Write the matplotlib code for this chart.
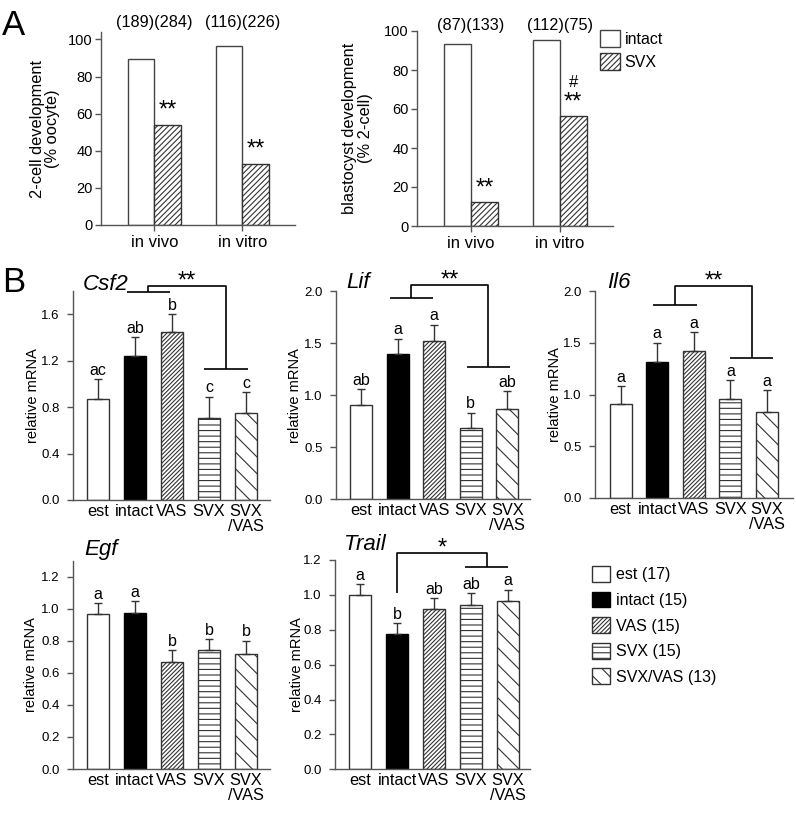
import matplotlib
matplotlib.use('Agg')
import matplotlib.pyplot as plt
import numpy as np

plt.rcParams['font.family'] = ['Liberation Sans', 'DejaVu Sans']
plt.rcParams['hatch.linewidth'] = 0.8

# ---------------- Panel A data ----------------
groups_A = ['in vivo', 'in vitro']
series_A = ['intact', 'SVX']
two_cell_intact = [89.6, 96.4]
two_cell_svx = [53.7, 33.1]
two_cell_n = ['(189)(284)', '(116)(226)']
two_cell_marks = ['**', '**']
blast_intact = [93.5, 95.2]
blast_svx = [12.1, 56.2]
blast_n = ['(87)(133)', '(112)(75)']
blast_marks = ['**', '**']
blast_hash = ['', '#']

# ---------------- Panel B data ----------------
conditions = ['est', 'intact', 'VAS', 'SVX', 'SVX\n/VAS']
legend_labels = ['est (17)', 'intact (15)', 'VAS (15)', 'SVX (15)', 'SVX/VAS (13)']

csf2_mean = [0.87, 1.24, 1.445, 0.71, 0.75]
csf2_err = [0.17, 0.16, 0.155, 0.18, 0.18]
csf2_letters = ['ac', 'ab', 'b', 'c', 'c']

lif_mean = [0.905, 1.40, 1.525, 0.68, 0.867]
lif_err = [0.155, 0.145, 0.155, 0.15, 0.173]
lif_letters = ['ab', 'a', 'a', 'b', 'ab']

il6_mean = [0.905, 1.31, 1.42, 0.955, 0.83]
il6_err = [0.175, 0.19, 0.18, 0.185, 0.21]
il6_letters = ['a', 'a', 'a', 'a', 'a']

egf_mean = [0.965, 0.975, 0.666, 0.74, 0.718]
egf_err = [0.069, 0.073, 0.074, 0.07, 0.082]
egf_letters = ['a', 'a', 'b', 'b', 'b']

trail_mean = [1.002, 0.775, 0.92, 0.943, 0.966]
trail_err = [0.058, 0.062, 0.06, 0.067, 0.064]
trail_letters = ['a', 'b', 'ab', 'ab', 'a']

SPINE = '#555555'
EDGE = '#333333'

fig = plt.figure(figsize=(7.96, 8.15), dpi=100)


def px_axes(l, r, b, t):
    return fig.add_axes([l / 796, 1 - b / 815, (r - l) / 796, (b - t) / 815])


def style_axes(ax):
    for s in ['top', 'right']:
        ax.spines[s].set_visible(False)
    for s in ['left', 'bottom']:
        ax.spines[s].set_color(SPINE)
        ax.spines[s].set_linewidth(1)


# ---------------- Panel A ----------------
def panel_a(ax, intact, svx, nlab, marks, ylabel, ylim, hashes=None, n_y=1.02):
    x = np.arange(len(groups_A))
    w = 0.3
    b1 = ax.bar(x - w / 2, intact, w, facecolor='white', edgecolor='#444444', linewidth=1, label=series_A[0])
    b2 = ax.bar(x + w / 2, svx, w, facecolor='white', edgecolor=EDGE, hatch='//////', linewidth=1, label=series_A[1])
    ax.set_xlim(-0.607, 1.597)
    ax.set_ylim(*ylim)
    ax.set_xticks(x)
    ax.set_xticklabels(groups_A, fontsize=12)
    ax.set_yticks(np.arange(0, 101, 20))
    ax.tick_params(axis='y', direction='out', length=4, width=1, color=SPINE, labelsize=10.5, pad=2)
    ax.tick_params(axis='x', direction='out', length=4, width=1, color=SPINE, pad=3)
    style_axes(ax)
    ax.set_ylabel(ylabel, fontsize=11.8, linespacing=1.05)
    for i, t in enumerate(nlab):
        ax.text(x[i], n_y, t, transform=ax.get_xaxis_transform(), ha='center', va='baseline', fontsize=11.7)
    for i, m in enumerate(marks):
        ax.annotate(m, (x[i] + w / 2, svx[i]), xytext=(0, 6), textcoords='offset points',
                    ha='center', va='baseline', fontsize=17)
    if hashes:
        for i, hsh in enumerate(hashes):
            if hsh:
                ax.annotate(hsh, (x[i] + w / 2, svx[i]), xytext=(0, 21), textcoords='offset points',
                            ha='center', va='baseline', fontsize=12)
    return b1, b2


axA1 = px_axes(101, 295, 225, 32)
panel_a(axA1, two_cell_intact, two_cell_svx, two_cell_n, two_cell_marks,
        '2-cell development\n(% oocyte)', (0, 104), n_y=1.026)
axA1.yaxis.set_label_coords(-0.21, 0.5)

axA2 = px_axes(417, 613, 226, 31)
hA = panel_a(axA2, blast_intact, blast_svx, blast_n, blast_marks,
             'blastocyst development\n(% 2-cell)', (0, 100), hashes=blast_hash, n_y=1.004)
axA2.yaxis.set_label_coords(-0.225, 0.5)
axA2.legend(hA, series_A, loc='upper left', bbox_to_anchor=(600 / 796, 1 - 30 / 815),
            bbox_transform=fig.transFigure, frameon=False, borderpad=0, borderaxespad=0,
            handlelength=1.25, handleheight=1.25, handletextpad=0.3, labelspacing=0.38, fontsize=11.5)

# ---------------- Panel B ----------------
facecolors = ['white', 'black', 'white', 'white', 'white']
edgecolors = [EDGE, 'black', EDGE, EDGE, EDGE]
hatches = ['', '', '////////', '---', '\\\\']


def panel_b(ax, mean, err, letters, title, ylim, yticks, xlim, title_xy, label_x):
    x = np.arange(len(conditions))
    bars = ax.bar(x, mean, 0.6, color=facecolors, edgecolor=edgecolors, linewidth=1)
    for b, h in zip(bars, hatches):
        b.set_hatch(h)
    ax.errorbar(x, mean, yerr=[np.zeros(len(mean)), err], fmt='none', ecolor=EDGE,
                elinewidth=1, capsize=3, capthick=1, zorder=3)
    for i, l in enumerate(letters):
        ax.annotate(l, (x[i], mean[i] + err[i]), xytext=(0, 3.2), textcoords='offset points',
                    ha='center', va='baseline', fontsize=11.5)
    ax.set_xlim(*xlim)
    ax.set_ylim(*ylim)
    ax.set_yticks(yticks)
    ax.set_yticklabels([f'{v:.1f}' for v in yticks])
    ax.set_xticks(x)
    ax.set_xticklabels(conditions, fontsize=11.8, linespacing=1.0)
    ax.tick_params(axis='y', direction='out', length=4, width=1, color=SPINE, labelsize=9.5, pad=5.5)
    ax.tick_params(axis='x', length=0, pad=3)
    style_axes(ax)
    ax.set_ylabel('relative mRNA', fontsize=10.5)
    ax.yaxis.set_label_coords(label_x, 0.5)
    fig.text(title_xy[0] / 796, 1 - title_xy[1] / 815, title, style='italic',
             fontsize=16, ha='left', va='baseline')
    return bars


def bracket(ax, lx, lw, ly, top, rx, rw, ry, label):
    kw = dict(color='black', lw=1.2, clip_on=False, solid_capstyle='butt')
    if lw > 0:
        ax.plot([lx - lw, lx + lw], [ly, ly], **kw)
    ax.plot([lx, lx, rx, rx], [ly, top, top, ry], **kw)
    ax.plot([rx - rw, rx + rw], [ry, ry], **kw)
    ax.annotate(label, ((lx + rx) / 2, top), xytext=(0, -1), textcoords='offset points',
                ha='center', va='baseline', fontsize=17, annotation_clip=False)


axC = px_axes(73, 270, 500, 291)
panel_b(axC, csf2_mean, csf2_err, csf2_letters, 'Csf2', (0, 1.8), np.arange(0, 1.61, 0.4),
        (-0.676, 4.65), (83, 290), -0.17)
bracket(axC, 1.365, 0.58, 1.79, 1.84, 3.46, 0.6, 1.127, '**')

axL = px_axes(336, 530, 499, 291.4)
panel_b(axL, lif_mean, lif_err, lif_letters, 'Lif', (0, 2.0), np.arange(0, 2.01, 0.5),
        (-0.683, 4.62), (346, 288), -0.175)
bracket(axL, 1.38, 0.59, 1.94, 2.06, 3.48, 0.59, 1.275, '**')

axI = px_axes(595, 793, 498, 291)
panel_b(axI, il6_mean, il6_err, il6_letters, 'Il6', (0, 2.0), np.arange(0, 2.01, 0.5),
        (-0.697, 4.71), (607, 288), -0.167)
bracket(axI, 1.49, 0.6, 1.86, 2.05, 3.58, 0.59, 1.35, '**')

axE = px_axes(73, 270, 769, 560.7)
panel_b(axE, egf_mean, egf_err, egf_letters, 'Egf', (0, 1.3), np.arange(0, 1.21, 0.2),
        (-0.676, 4.65), (84, 555), -0.178)

axT = px_axes(335, 530, 769.3, 560)
bT = panel_b(axT, trail_mean, trail_err, trail_letters, 'Trail', (0, 1.2), np.arange(0, 1.21, 0.2),
             (-0.68, 4.6), (344, 550), -0.16)
bracket(axT, 1.0, 0.0, 1.01, 1.24, 3.43, 0.58, 1.16, '*')

fig.legend(list(bT), legend_labels, loc='upper left', bbox_to_anchor=(592 / 796, 1 - 566 / 815),
           frameon=False, borderpad=0, borderaxespad=0, handlelength=1.15, handleheight=1.15,
           handletextpad=0.35, labelspacing=0.58, fontsize=11.5)

# Panel letters
fig.text(2 / 796, 1 - 35 / 815, 'A', fontsize=25, ha='left', va='baseline')
fig.text(2 / 796, 1 - 292 / 815, 'B', fontsize=25, ha='left', va='baseline')

fig.savefig('out.png', dpi=100)
